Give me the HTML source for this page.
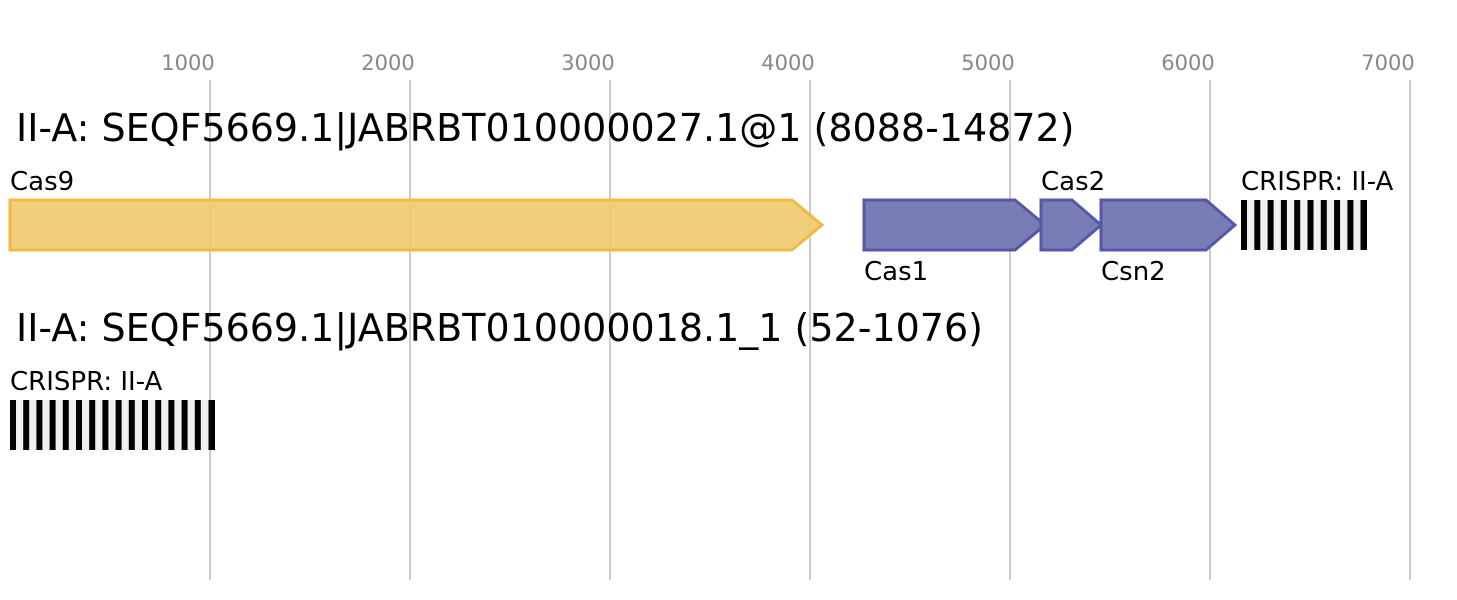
<!DOCTYPE html>
<html><head><style>body{margin:0;background:#fff}svg{display:block}</style></head><body>
<svg width="1457" height="600" xmlns="http://www.w3.org/2000/svg" font-family="DejaVu Sans, Liberation Sans, sans-serif">
<g stroke="#bbb" stroke-width="1.5">
<line x1="210" y1="80" x2="210" y2="580"/><line x1="410" y1="80" x2="410" y2="580"/><line x1="610" y1="80" x2="610" y2="580"/><line x1="810" y1="80" x2="810" y2="580"/><line x1="1010" y1="80" x2="1010" y2="580"/><line x1="1210" y1="80" x2="1210" y2="580"/><line x1="1410" y1="80" x2="1410" y2="580"/>
</g>
<g fill="#888" font-size="21" text-anchor="middle">
<text x="188" y="70">1000</text><text x="388" y="70">2000</text><text x="588" y="70">3000</text><text x="788" y="70">4000</text><text x="988" y="70">5000</text><text x="1188" y="70">6000</text><text x="1388" y="70">7000</text>
</g>
<text x="16" y="141" font-size="38">II-A: SEQF5669.1|JABRBT010000027.1@1 (8088-14872)</text>
<text x="16" y="341" font-size="38">II-A: SEQF5669.1|JABRBT010000018.1_1 (52-1076)</text>
<g font-size="26">
<text x="10" y="190">Cas9</text><text x="1041" y="190">Cas2</text><text x="1241" y="190">CRISPR: II-A</text>
<text x="864" y="280">Cas1</text><text x="1101" y="280">Csn2</text>
<text x="10" y="390">CRISPR: II-A</text>
</g>
<polygon points="10,200 792,200 822,225 792,250 10,250" fill="#f0c96a" fill-opacity="0.9" stroke="#f0bb45" stroke-width="3"/>
<g fill="#7a7db5" stroke="#5558a6" stroke-width="3">
<polygon points="864,200 1015,200 1045,225 1015,250 864,250"/>
<polygon points="1041,200 1072,200 1101,225 1072,250 1041,250"/>
<polygon points="1101,200 1206,200 1235,225 1206,250 1101,250"/>
</g>
<rect x="1241" y="200" width="126" height="50" fill="#f0f0f0"/>
<g fill="#000">
<rect x="1241" y="200" width="6" height="50"/><rect x="1254.3" y="200" width="6" height="50"/><rect x="1267.6" y="200" width="6" height="50"/><rect x="1280.9" y="200" width="6" height="50"/><rect x="1294.2" y="200" width="6" height="50"/><rect x="1307.5" y="200" width="6" height="50"/><rect x="1320.8" y="200" width="6" height="50"/><rect x="1334.1" y="200" width="6" height="50"/><rect x="1347.4" y="200" width="6" height="50"/><rect x="1360.5" y="200" width="6.5" height="50"/>
</g>
<rect x="10" y="400" width="205" height="50" fill="#f0f0f0"/>
<g fill="#000">
<rect x="10" y="400" width="6" height="50"/><rect x="23.2" y="400" width="6" height="50"/><rect x="36.4" y="400" width="6" height="50"/><rect x="49.6" y="400" width="6" height="50"/><rect x="62.8" y="400" width="6" height="50"/><rect x="76" y="400" width="6" height="50"/><rect x="89.2" y="400" width="6" height="50"/><rect x="102.4" y="400" width="6" height="50"/><rect x="115.6" y="400" width="6" height="50"/><rect x="128.8" y="400" width="6" height="50"/><rect x="142" y="400" width="6" height="50"/><rect x="155.2" y="400" width="6" height="50"/><rect x="168.4" y="400" width="6" height="50"/><rect x="181.6" y="400" width="6" height="50"/><rect x="194.8" y="400" width="6" height="50"/><rect x="208.5" y="400" width="6.5" height="50"/>
</g>
</svg>
</body></html>
